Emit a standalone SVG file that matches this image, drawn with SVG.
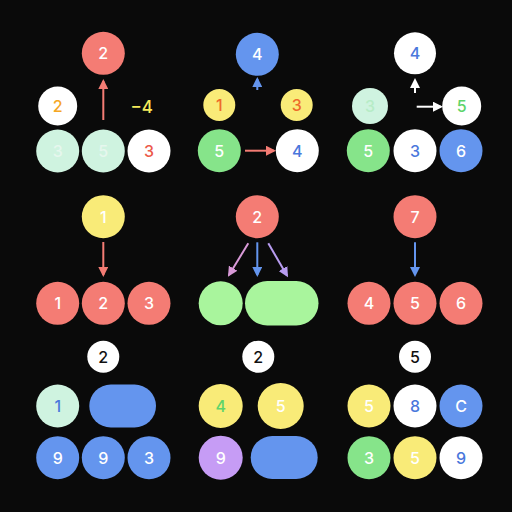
<svg xmlns="http://www.w3.org/2000/svg" width="512" height="512" viewBox="0 0 512 512">
<style>
text{font-family:Inter,"Noto Sans","Liberation Sans",sans-serif;font-size:16px;font-weight:500;text-anchor:middle;dominant-baseline:central}
.r{fill:#f47c74}.m{fill:#cff3e0}.w{fill:#ffffff}.y{fill:#f9eb78}.g{fill:#86e48a}.lg{fill:#a9f59d}.b{fill:#6495ee}.p{fill:#c69cf5}
.tw{fill:#ffffff}.tb{fill:#4a78dc}.tr{fill:#ec5a4a}.to{fill:#f5a623}.tg{fill:#5ed46a}.tm{fill:#e6f7ee}.ty{fill:#f5ea5a}.tor{fill:#ee6a2a}
.c{stroke-width:2;fill:none}
</style>
<defs>
<marker id="ar" viewBox="0 0 10 10" refX="8" refY="5" markerWidth="5" markerHeight="5" orient="auto"><path d="M0,0L10,5L0,10z" fill="#f47c74"/></marker>
<marker id="ab" viewBox="0 0 10 10" refX="8" refY="5" markerWidth="5" markerHeight="5" orient="auto"><path d="M0,0L10,5L0,10z" fill="#6495ee"/></marker>
<marker id="aw" viewBox="0 0 10 10" refX="8" refY="5" markerWidth="5" markerHeight="5" orient="auto"><path d="M0,0L10,5L0,10z" fill="#ffffff"/></marker>
<marker id="ap" viewBox="0 0 10 10" refX="8" refY="5" markerWidth="5" markerHeight="5" orient="auto"><path d="M0,0L10,5L0,10z" fill="#d99ad8"/></marker>
<marker id="av" viewBox="0 0 10 10" refX="8" refY="5" markerWidth="5" markerHeight="5" orient="auto"><path d="M0,0L10,5L0,10z" fill="#b89cf0"/></marker>
</defs>
<rect width="512" height="512" fill="#0a0a0a"/>
<g id="connectors">
<line class="c" x1="103.3" y1="120" x2="103.3" y2="81" stroke="#f47c74" marker-end="url(#ar)"/>
<line class="c" x1="257.3" y1="90" x2="257.3" y2="79" stroke="#6495ee" marker-end="url(#ab)"/>
<line class="c" x1="245" y1="150.7" x2="274" y2="150.7" stroke="#f47c74" marker-end="url(#ar)"/>
<line class="c" x1="415" y1="93" x2="415" y2="80" stroke="#ffffff" marker-end="url(#aw)"/>
<line class="c" x1="416.7" y1="106.7" x2="441" y2="106.7" stroke="#ffffff" marker-end="url(#aw)"/>
<line class="c" x1="103.3" y1="242" x2="103.3" y2="275" stroke="#f47c74" marker-end="url(#ar)"/>
<line class="c" x1="248.3" y1="243.3" x2="229" y2="275" stroke="#d99ad8" marker-end="url(#ap)"/>
<line class="c" x1="257.3" y1="242.3" x2="257.3" y2="275" stroke="#6495ee" marker-end="url(#ab)"/>
<line class="c" x1="268.3" y1="243.3" x2="287" y2="275.5" stroke="#b89cf0" marker-end="url(#av)"/>
<line class="c" x1="415" y1="242.3" x2="415" y2="275" stroke="#6495ee" marker-end="url(#ab)"/>
</g>
<g id="panel1">
<g id="p1-top"><circle cx="103.3" cy="53.3" r="21.5" class="r"/><text x="103.3" y="53.3" class="tw">2</text></g>
<g id="p1-a"><circle cx="57.7" cy="106" r="19.5" class="w"/><text x="57.7" y="106" class="to">2</text></g>
<g id="p1-label"><text x="141.7" y="106.5" class="ty" style="font-size:17px">−4</text></g>
<g id="p1-b1"><circle cx="57.7" cy="151" r="21.5" class="m"/><text x="57.7" y="151" class="tm">3</text></g>
<g id="p1-b2"><circle cx="103.3" cy="151" r="21.5" class="m"/><text x="103.3" y="151" class="tm">5</text></g>
<g id="p1-b3"><circle cx="149" cy="151" r="21.5" class="w"/><text x="149" y="151" class="tr">3</text></g>
</g>
<g id="panel2">
<g id="p2-top"><circle cx="257.3" cy="54.3" r="21.5" class="b"/><text x="257.3" y="54.3" class="tw">4</text></g>
<g id="p2-a"><circle cx="219.3" cy="105" r="16" class="y"/><text x="219.3" y="105" class="tor">1</text></g>
<g id="p2-b"><circle cx="296.7" cy="105" r="16" class="y"/><text x="296.7" y="105" class="tor">3</text></g>
<g id="p2-c"><circle cx="219.3" cy="150.7" r="21.5" class="g"/><text x="219.3" y="150.7" class="tw">5</text></g>
<g id="p2-d"><circle cx="297.3" cy="150.7" r="21.5" class="w"/><text x="297.3" y="150.7" class="tb">4</text></g>
</g>
<g id="panel3">
<g id="p3-top"><circle cx="415" cy="53.3" r="21" class="w"/><text x="415" y="53.3" class="tb">4</text></g>
<g id="p3-a"><circle cx="370" cy="106" r="18" class="m"/><text x="370" y="106" style="fill:#b6ecc6">3</text></g>
<g id="p3-b"><circle cx="461.7" cy="106" r="19.5" class="w"/><text x="461.7" y="106" class="tg">5</text></g>
<g id="p3-c"><circle cx="368.3" cy="150.7" r="21.5" class="g"/><text x="368.3" y="150.7" class="tw">5</text></g>
<g id="p3-d"><circle cx="415" cy="150.7" r="21.5" class="w"/><text x="415" y="150.7" class="tb">3</text></g>
<g id="p3-e"><circle cx="461" cy="150.7" r="21.5" class="b"/><text x="461" y="150.7" class="tw">6</text></g>
</g>
<g id="panel4">
<g id="p4-top"><circle cx="103.3" cy="216.7" r="21.5" class="y"/><text x="103.3" y="216.7" class="tw">1</text></g>
<g id="p4-a"><circle cx="57.7" cy="303.3" r="21.5" class="r"/><text x="57.7" y="303.3" class="tw">1</text></g>
<g id="p4-b"><circle cx="103.3" cy="303.3" r="21.5" class="r"/><text x="103.3" y="303.3" class="tw">2</text></g>
<g id="p4-c"><circle cx="149" cy="303.3" r="21.5" class="r"/><text x="149" y="303.3" class="tw">3</text></g>
</g>
<g id="panel5">
<g id="p5-top"><circle cx="257.3" cy="216.7" r="21.5" class="r"/><text x="257.3" y="216.7" class="tw">2</text></g>
<g id="p5-a"><circle cx="220.7" cy="303.3" r="22" class="lg"/></g>
<g id="p5-b"><rect x="245" y="281" width="73.5" height="44.5" rx="22.2" class="lg"/></g>
</g>
<g id="panel6">
<g id="p6-top"><circle cx="415" cy="216.7" r="21.5" class="r"/><text x="415" y="216.7" class="tw">7</text></g>
<g id="p6-a"><circle cx="369" cy="303.3" r="21.5" class="r"/><text x="369" y="303.3" class="tw">4</text></g>
<g id="p6-b"><circle cx="415" cy="303.3" r="21.5" class="r"/><text x="415" y="303.3" class="tw">5</text></g>
<g id="p6-c"><circle cx="461" cy="303.3" r="21.5" class="r"/><text x="461" y="303.3" class="tw">6</text></g>
</g>
<g id="panel7">
<g id="p7-top"><circle cx="103.3" cy="356.7" r="16" class="w"/><text x="103.3" y="356.7" style="fill:#111">2</text></g>
<g id="p7-a"><circle cx="57.7" cy="406" r="21.5" class="m"/><text x="57.7" y="406" class="tb">1</text></g>
<g id="p7-b"><rect x="89.3" y="384.5" width="66.7" height="43" rx="21.5" class="b"/></g>
<g id="p7-c"><circle cx="57.7" cy="457.7" r="21.5" class="b"/><text x="57.7" y="457.7" class="tw">9</text></g>
<g id="p7-d"><circle cx="103.3" cy="457.7" r="21.5" class="b"/><text x="103.3" y="457.7" class="tw">9</text></g>
<g id="p7-e"><circle cx="149" cy="457.7" r="21.5" class="b"/><text x="149" y="457.7" class="tw">3</text></g>
</g>
<g id="panel8">
<g id="p8-top"><circle cx="258.3" cy="356.7" r="16" class="w"/><text x="258.3" y="356.7" style="fill:#111">2</text></g>
<g id="p8-a"><circle cx="220.7" cy="406" r="22" class="y"/><text x="220.7" y="406" class="tg">4</text></g>
<g id="p8-b"><circle cx="280.7" cy="406" r="23" class="y"/><text x="280.7" y="406" class="tw">5</text></g>
<g id="p8-c"><circle cx="220.7" cy="457.7" r="22" class="p"/><text x="220.7" y="457.7" class="tw">9</text></g>
<g id="p8-d"><rect x="250.7" y="436" width="67" height="43" rx="21.5" class="b"/></g>
</g>
<g id="panel9">
<g id="p9-top"><circle cx="415" cy="356.7" r="16" class="w"/><text x="415" y="356.7" style="fill:#111">5</text></g>
<g id="p9-a"><circle cx="369" cy="406" r="21.5" class="y"/><text x="369" y="406" class="tw">5</text></g>
<g id="p9-b"><circle cx="415" cy="406" r="21.5" class="w"/><text x="415" y="406" class="tb">8</text></g>
<g id="p9-c"><circle cx="461" cy="406" r="21.5" class="b"/><text x="461" y="406" class="tw">C</text></g>
<g id="p9-d"><circle cx="369" cy="457.7" r="21.5" class="g"/><text x="369" y="457.7" class="tw">3</text></g>
<g id="p9-e"><circle cx="415" cy="457.7" r="21.5" class="y"/><text x="415" y="457.7" class="tw">5</text></g>
<g id="p9-f"><circle cx="461" cy="457.7" r="21.5" class="w"/><text x="461" y="457.7" class="tb">9</text></g>
</g>
</svg>
